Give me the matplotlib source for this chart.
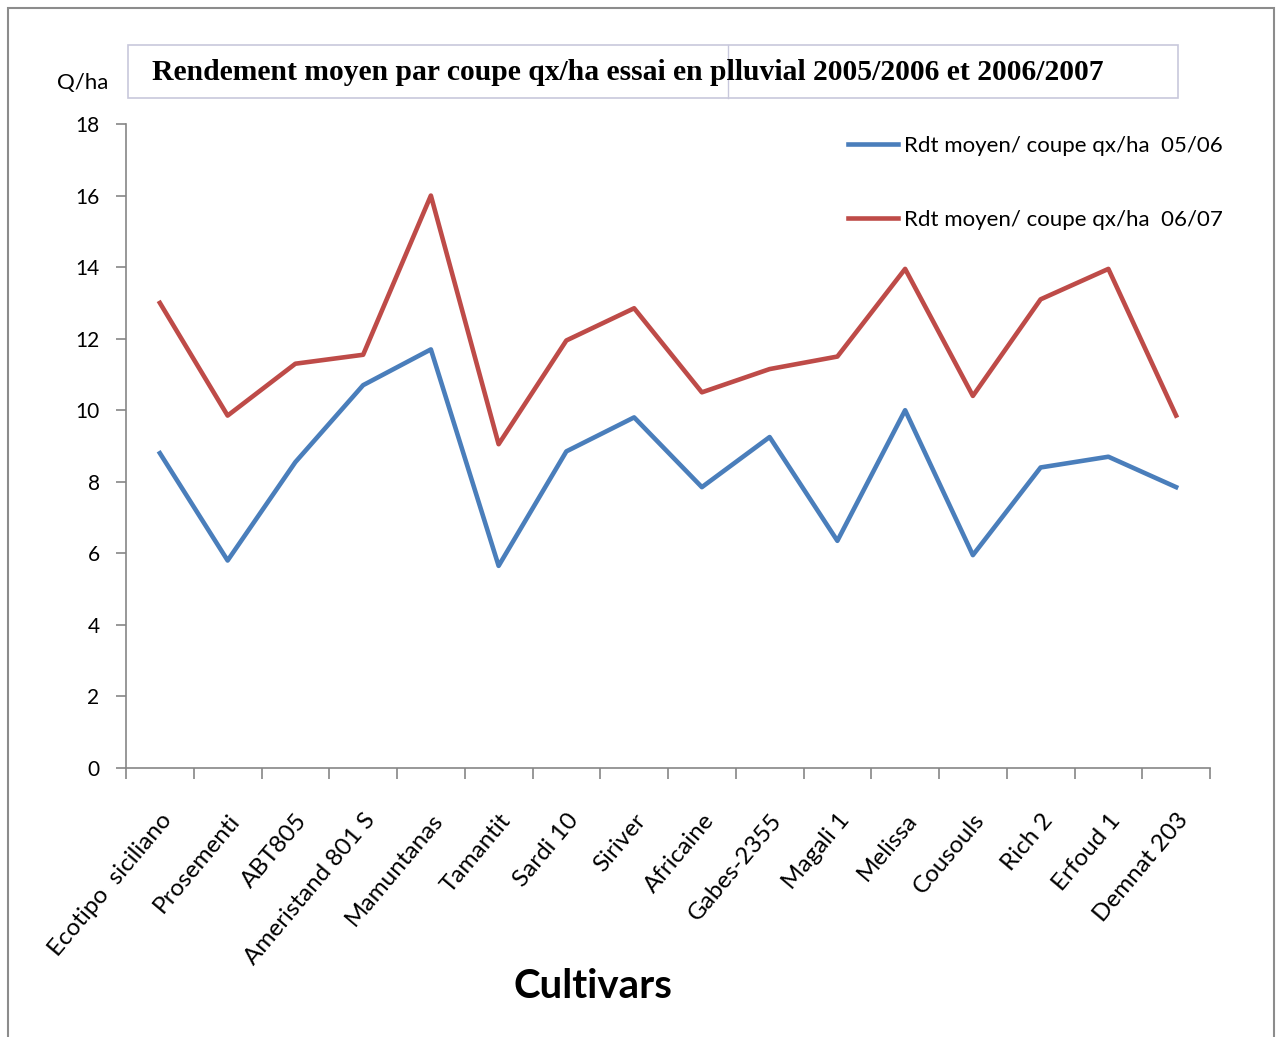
import numpy as np
import matplotlib.pyplot as plt
from matplotlib.patches import Rectangle
from matplotlib.lines import Line2D

cultivars = ["Ecotipo  siciliano", "Prosementi", "ABT805", "Ameristand 801 S",
             "Mamuntanas", "Tamantit", "Sardi 10", "Siriver", "Africaine",
             "Gabes-2355", "Magali 1", "Melissa", "Cousouls", "Rich 2",
             "Erfoud 1", "Demnat 203"]
rdt_0506 = [8.8, 5.8, 8.55, 10.7, 11.7, 5.65, 8.85, 9.8, 7.85,
            9.25, 6.35, 10.0, 5.95, 8.4, 8.7, 7.85]
rdt_0607 = [13.0, 9.85, 11.3, 11.55, 16.0, 9.05, 11.95, 12.85, 10.5,
            11.15, 11.5, 13.95, 10.4, 13.1, 13.95, 9.85]
labels = ["Rdt moyen/ coupe qx/ha  05/06", "Rdt moyen/ coupe qx/ha  06/07"]

plt.rcParams['font.family'] = ['Lato', 'DejaVu Sans']

fig = plt.figure(figsize=(12.8, 10.37), dpi=100)
ax = fig.add_axes([126/1280, 1-768/1037, (1210-126)/1280, (768-124)/1037])

x = np.arange(len(cultivars))
ax.plot(x, rdt_0506, color='#4A7EBB', lw=3.3, solid_joinstyle='round')
ax.plot(x, rdt_0607, color='#BE4B48', lw=3.3, solid_joinstyle='round')

ax.set_xlim(-0.5, len(cultivars) - 0.5)
ax.set_ylim(0, 18)
ax.set_yticks(range(0, 19, 2))
ax.set_xticks(x)
ax.set_xticklabels(cultivars, rotation=50, ha='right', rotation_mode='anchor', fontsize=17.5)
ax.set_xticks(np.arange(-0.5, len(cultivars)), minor=True)
ax.tick_params(axis='x', which='major', length=0, pad=30)
ax.tick_params(axis='x', which='minor', length=8, color='#868686', width=1.2)
ax.tick_params(axis='y', length=7, color='#868686', width=1.2, labelsize=15, pad=12)
for s in ['top', 'right']:
    ax.spines[s].set_visible(False)
for s in ['left', 'bottom']:
    ax.spines[s].set_color('#868686')
    ax.spines[s].set_linewidth(1.2)

# legend drawn as two spaced entries in the upper right
handles = [Line2D([], [], color='#4A7EBB', lw=3.3), Line2D([], [], color='#BE4B48', lw=3.3)]
ax.legend(handles, labels, loc='upper left', bbox_to_anchor=((848-126)/1084, 0.981),
          frameon=False, borderpad=0, borderaxespad=0,
          fontsize=16, handlelength=2.25, handletextpad=0.27, labelspacing=2.4)

fig.text(593/1280, 1-986/1037, "Cultivars", fontsize=29, fontweight='bold',
         ha='center', va='center')
fig.text(83/1280, 1-83/1037, "Q/ha", fontsize=16, ha='center', va='center')

# title box with outer chart frame
fig.patches.append(Rectangle((128/1280, 1-98/1037), 1050/1280, 53/1037,
                             transform=fig.transFigure, fill=False,
                             edgecolor='#C8C8DC', lw=1.2))
fig.lines.append(Line2D([728/1280, 728/1280], [1-98/1037, 1-45/1037],
                        transform=fig.transFigure, color='#C8C8DC', lw=1))
fig.text(152/1280, 1-73/1037, "Rendement moyen par coupe qx/ha essai en plluvial 2005/2006 et 2006/2007",
         fontsize=21.3, fontweight='bold', family='Liberation Serif',
         ha='left', va='center')
fig.patches.append(Rectangle((8/1280, -0.01), 1266/1280, 1.01 - 8/1037,
                             transform=fig.transFigure, fill=False,
                             edgecolor='#8C8C8C', lw=1.5))

fig.savefig("out.png", dpi=100)
